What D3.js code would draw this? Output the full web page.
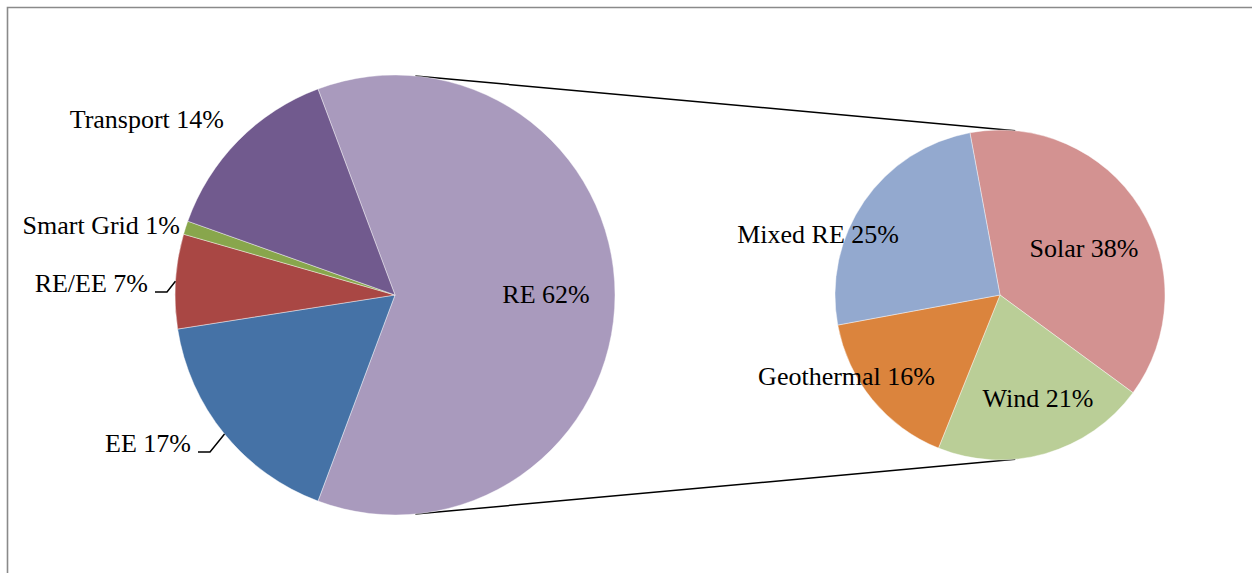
<!DOCTYPE html>
<html>
<head>
<meta charset="utf-8">
<script src="https://cdn.jsdelivr.net/npm/d3@7"></script>
<style>
  html, body { margin: 0; padding: 0; background: #fff; }
  svg { display: block; }
  text { font-family: "Liberation Serif", "Times New Roman", serif; font-size: 26px; fill: #000; }
</style>
</head>
<body>
<svg id="chart" width="1252" height="573"></svg>
<script>
// Funding share by sector (main pie) and the RE breakdown (secondary pie)
const mainCategories = ["RE", "EE", "RE/EE", "Smart Grid", "Transport"];
const mainValues = [62, 17, 7, 1, 14];
const subCategories = ["Solar", "Wind", "Geothermal", "Mixed RE"];
const subValues = [38, 21, 16, 25];

const mainColors = ["#A99ABD", "#4572A6", "#A94744", "#88A64C", "#715A8E"];
const subColors = ["#D39291", "#BACE97", "#DB843D", "#93A9CF"];

// Label placement relative to each pie centre: [dx, dy (baseline), anchor, leader]
const mainLabelLayout = [
  [151, 8, "middle", false],
  [-204, 157, "end", true],
  [-247, -3, "end", true],
  [-215, -61, "end", false],
  [-171, -167, "end", false]
];
const subLabelLayout = [
  [84, -38, "middle", false],
  [38, 112, "middle", false],
  [-65, 90, "end", false],
  [-101, -52, "end", false]
];

const svg = d3.select("#chart");
const deg = Math.PI / 180;

// Frame
svg.append("path")
  .attr("d", "M7.5,573 L7.5,7.5 L1252,7.5")
  .attr("fill", "none")
  .attr("stroke", "#8a8a8a")
  .attr("stroke-width", 1.6);

const mainPie = { cx: 395, cy: 295, r: 220 };
const subPie = { cx: 1000, cy: 295, r: 165 };

// Main pie: the RE slice is centred on the 3 o'clock direction
const reShare = mainValues[0] / d3.sum(mainValues);
const mainStart = Math.PI / 2 - reShare * Math.PI;
const mainArcs = d3.pie().sort(null).value(d => d)
  .startAngle(mainStart).endAngle(mainStart + 2 * Math.PI)(mainValues);

const subStart = -10.5 * deg;
const subArcs = d3.pie().sort(null).value(d => d)
  .startAngle(subStart).endAngle(subStart + 2 * Math.PI)(subValues);

function drawPie(p, arcs, colors) {
  const g = svg.append("g").attr("transform", `translate(${p.cx},${p.cy})`);
  const arc = d3.arc().innerRadius(0).outerRadius(p.r);
  g.selectAll("path.slice").data(arcs).join("path")
    .attr("class", "slice")
    .attr("d", arc)
    .attr("fill", (d, i) => colors[i])
    .attr("stroke", "#ffffff")
    .attr("stroke-opacity", 0.6)
    .attr("stroke-width", 0.7);
  return g;
}

// Connector lines between the RE slice and the secondary pie
const connAngle = 5.3 * deg;
function edgePoint(p, a) {
  return [p.cx + p.r * Math.sin(a), p.cy - p.r * Math.cos(a)];
}
[connAngle, Math.PI - connAngle].forEach(a => {
  const p1 = edgePoint(mainPie, a), p2 = edgePoint(subPie, a);
  svg.append("line")
    .attr("x1", p1[0]).attr("y1", p1[1])
    .attr("x2", p2[0]).attr("y2", p2[1])
    .attr("stroke", "#000").attr("stroke-width", 1.5);
});

const gMain = drawPie(mainPie, mainArcs, mainColors);
const gSub = drawPie(subPie, subArcs, subColors);

function drawLabels(g, p, arcs, cats, layout) {
  const edgeArc = d3.arc().innerRadius(p.r).outerRadius(p.r);
  arcs.forEach((d, i) => {
    const [dx, dy, anchor, leader] = layout[i];
    const t = g.append("text")
      .attr("x", dx).attr("y", dy)
      .attr("text-anchor", anchor)
      .text(`${cats[i]} ${d.data}%`);
    if (leader) {
      const end = edgeArc.centroid(d);
      const x0 = dx + 7;
      const x1 = dx + 19;
      g.append("path")
        .attr("d", `M${x0},${dy} L${x1},${dy} L${end[0]},${end[1]}`)
        .attr("fill", "none")
        .attr("stroke", "#000")
        .attr("stroke-width", 1.5);
    }
  });
}

drawLabels(gMain, mainPie, mainArcs, mainCategories, mainLabelLayout);
drawLabels(gSub, subPie, subArcs, subCategories, subLabelLayout);
</script>
</body>
</html>
